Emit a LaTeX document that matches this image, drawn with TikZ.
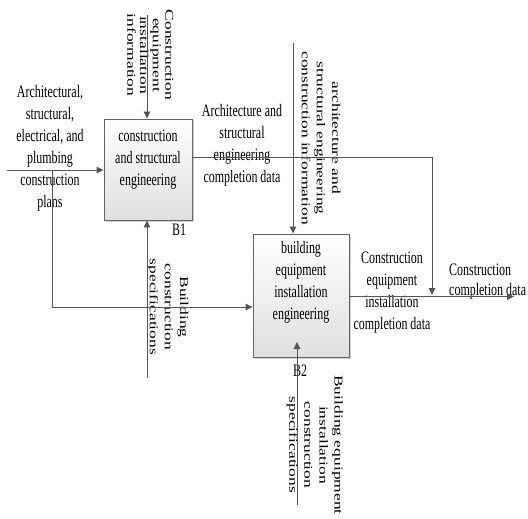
\documentclass[tikz,border=0pt]{standalone}
\usepackage{fontspec}
\setmainfont{Liberation Serif}
\usepackage{graphicx}
\usetikzlibrary{arrows.meta,shadows,calc}
\definecolor{ln}{RGB}{85,85,85}
\definecolor{bx}{RGB}{100,100,100}
\newcommand\myh[2]{\scalebox{0.685}[1]{\fontsize{17.5}{#1}\selectfont\begin{tabular}{@{}c@{}}#2\end{tabular}}}
\newcommand\myhl[2]{\scalebox{0.685}[1]{\fontsize{17.5}{#1}\selectfont\begin{tabular}{@{}l@{}}#2\end{tabular}}}
\newcommand\myv[2]{\scalebox{0.685}[1]{\rotatebox{-90}{\fontsize{17.5}{#1}\selectfont\begin{tabular}{@{}c@{}}#2\end{tabular}}}}
\begin{document}
\begin{tikzpicture}[x=1pt,y=-1pt,
  flow/.style={draw=ln,line width=0.9pt},
  arr/.style={flow,-{Triangle[length=7pt,width=6.5pt]}},
  proc/.style={draw=bx,line width=0.9pt,inner sep=0,
    top color=white,bottom color=gray!25,
    drop shadow={shadow xshift=1.5pt,shadow yshift=-1.5pt,fill=gray!70,opacity=0.5}},
  lbl/.style={inner sep=0,text=black}]
\useasboundingbox (0,0) rectangle (528,519);
% boxes
\node[proc,minimum width=88pt,minimum height=101pt] (b1) at (148,169.5) {};
\node[proc,minimum width=96pt,minimum height=123pt] (b2) at (301,295.5) {};
% box texts
\node[lbl] (b1t) at (148,159) {\myh{22}{construction\\and structural\\engineering}};
\node[lbl] (b2t) at (301,282) {\myh{22}{building\\equipment\\installation\\engineering}};
\node[lbl] (b1n) at (179,231) {\myh{22}{B1}};
\node[lbl] (b2n) at (300,372) {\myh{22}{B2}};
% labels
\node[lbl] (inl) at (50,148) {\myh{22}{Architectural,\\structural,\\electrical, and\\plumbing\\construction\\plans}};
\node[lbl] (c1l) at (149,55) {\myv{18.5}{Construction\\equipment\\installation\\information}};
\node[lbl] (o1l) at (242,145) {\myh{22}{Architecture and\\structural\\engineering\\completion data}};
\node[lbl] (c2l) at (320,138) {\myv{22}{architecture and\\structural engineering\\construction information}};
\node[lbl] (m1l) at (168,307) {\myv{22}{Building\\construction\\specifications}};
\node[lbl] (o2l) at (392,292) {\myh{22}{Construction\\equipment\\installation\\completion data}};
\node[lbl,anchor=west] (fl) at (449,281) {\myhl{20}{Construction\\completion data}};
\node[lbl] (m2l) at (315,445) {\myv{22}{Building equipment\\installation\\construction\\specifications}};
% connectors
\coordinate (inS) at (7,170);
\coordinate (br) at (52,170);
\draw[arr] (inS) -- (inS -| b1.west);
\draw[arr] (br) |- ($(b2.west)+(0,11.5)$);
\coordinate (c1s) at (147,15);
\draw[arr] (c1s) -- (c1s |- b1.north);
\coordinate (m1s) at (147,378);
\draw[arr] (m1s) -- (m1s |- b1.south);
\coordinate (c2s) at (293,43);
\draw[arr] (c2s) -- (c2s |- b2.north);
\coordinate (j) at (432,295);
\draw[arr] ($(b1.east)+(0,-12.5)$) -| (j);
\coordinate (outE) at (514,296.5);
\draw[arr] (b2.east |- outE) -- (outE);
\coordinate (m2s) at (297,505);
\coordinate (m2t) at (297,342);
\draw[arr] (m2s) -- (m2t);
\end{tikzpicture}
\end{document}
